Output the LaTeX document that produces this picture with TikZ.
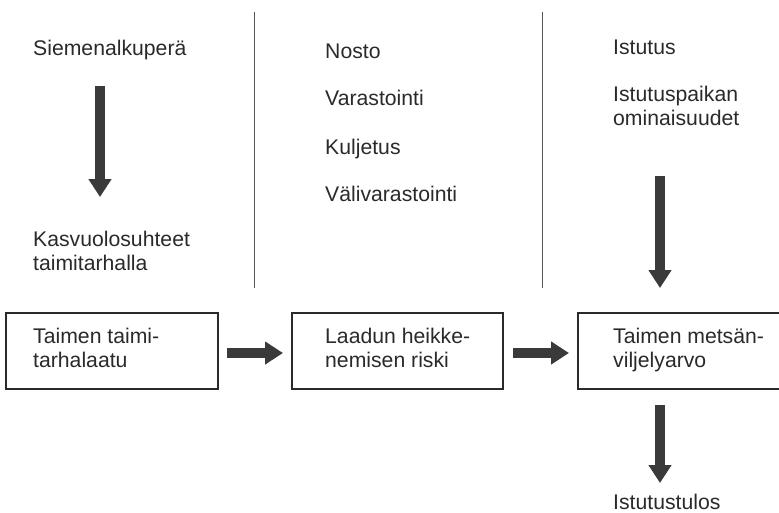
\documentclass[tikz,border=0pt]{standalone}
\usepackage{fontspec}
\setmainfont{Liberation Sans}
\usetikzlibrary{arrows.meta}
\definecolor{ink}{HTML}{2A2A2A}
\definecolor{arrowgray}{HTML}{3A3A3A}
\tikzset{
  % anchor=base west puts the last line's baseline at the given point
  label/.style={anchor=base west, inner sep=0pt, align=left,
    font=\fontsize{21.2}{23.5}\selectfont, text=ink},
  stagebox/.style={draw=ink, line width=1.1pt},
  flow/.style={arrowgray, line width=10.5pt,
    -{Triangle[length=18pt,width=22pt]}},
  divider/.style={draw=ink!80, line width=1pt}
}
\begin{document}
\begin{tikzpicture}[x=1pt,y=-1pt]
\clip (0,0) rectangle (779,512);
\fill[white] (0,0) rectangle (779,512);

% column dividers
\draw[divider] (254,12) -- (254,288);
\draw[divider] (542,12) -- (542,288);

% left column
\node[label] (seed) at (33,55) {Siemenalkuperä};
\node[label] (nursery) at (33,270) {Kasvuolosuhteet\\taimitarhalla};
\coordinate (a1s) at (100,86);
\coordinate (a1e) at (100,197);
\draw[flow] (a1s) -- (a1e);

% middle column
\node[label] (lift) at (325,58) {Nosto};
\node[label] (store) at (325,105) {Varastointi};
\node[label] (transport) at (325,154) {Kuljetus};
\node[label] (interim) at (325,201) {Välivarastointi};

% right column
\node[label] (plant) at (613,54) {Istutus};
\node[label] (site) at (613,125) {Istutuspaikan\\ominaisuudet};
\coordinate (a2s) at (660,176);
\coordinate (a2e) at (660,288);
\draw[flow] (a2s) -- (a2e);

% stage boxes
\draw[stagebox] (6,313) rectangle (218,389);
\node[label] (q1) at (33,367) {Taimen taimi-\\tarhalaatu};
\draw[stagebox] (292,313) rectangle (503,389);
\node[label] (q2) at (325,367) {Laadun heikke-\\nemisen riski};
\draw[stagebox] (578,313) rectangle (790,389);
\node[label] (q3) at (613,367) {Taimen metsän-\\viljelyarvo};

\coordinate (h1s) at (227,353);
\coordinate (h1e) at (283,353);
\draw[flow] (h1s) -- (h1e);
\coordinate (h2s) at (513,353);
\coordinate (h2e) at (569,353);
\draw[flow] (h2s) -- (h2e);

% outcome
\coordinate (a3s) at (660,405);
\coordinate (a3e) at (660,483);
\draw[flow] (a3s) -- (a3e);
\node[label] (result) at (613,509) {Istutustulos};
\end{tikzpicture}
\end{document}
